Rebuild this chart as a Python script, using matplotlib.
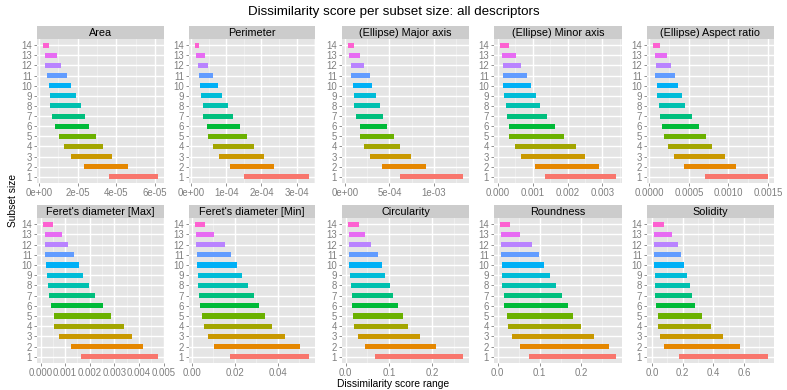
import numpy as np
import matplotlib
matplotlib.use("Agg")
import matplotlib.pyplot as plt

plt.rcParams["font.family"] = ["Liberation Sans", "DejaVu Sans"]

# ── Data: dissimilarity score range (low, high) per subset size 1..14 ──
subset_sizes = list(range(1, 15))

area_lo = [3.62e-5, 2.33e-5, 1.63e-5, 1.29e-5, 1.01e-5, 0.84e-5, 0.65e-5,
           0.58e-5, 0.55e-5, 0.51e-5, 0.43e-5, 0.33e-5, 0.29e-5, 0.19e-5]
area_hi = [6.16e-5, 4.61e-5, 3.77e-5, 3.31e-5, 2.93e-5, 2.59e-5, 2.37e-5,
           2.15e-5, 1.92e-5, 1.65e-5, 1.44e-5, 1.13e-5, 0.91e-5, 0.51e-5]

perim_lo = [1.50e-4, 1.11e-4, 0.80e-4, 0.62e-4, 0.49e-4, 0.44e-4, 0.34e-4,
            0.33e-4, 0.27e-4, 0.26e-4, 0.21e-4, 0.19e-4, 0.15e-4, 0.10e-4]
perim_hi = [3.36e-4, 2.37e-4, 2.06e-4, 1.79e-4, 1.60e-4, 1.38e-4, 1.20e-4,
            1.05e-4, 0.89e-4, 0.75e-4, 0.63e-4, 0.49e-4, 0.38e-4, 0.23e-4]

major_lo = [6.13e-4, 4.13e-4, 2.79e-4, 2.16e-4, 1.75e-4, 1.67e-4, 1.23e-4,
            1.08e-4, 1.08e-4, 0.86e-4, 0.71e-4, 0.74e-4, 0.52e-4, 0.33e-4]
major_hi = [13.27e-4, 9.11e-4, 7.43e-4, 6.13e-4, 5.54e-4, 4.72e-4, 4.28e-4,
            3.90e-4, 3.46e-4, 3.09e-4, 2.79e-4, 2.19e-4, 1.75e-4, 1.00e-4]

minor_lo = [1.35e-3, 1.07e-3, 0.66e-3, 0.48e-3, 0.31e-3, 0.30e-3, 0.27e-3,
            0.24e-3, 0.18e-3, 0.15e-3, 0.14e-3, 0.14e-3, 0.11e-3, 0.05e-3]
minor_hi = [3.40e-3, 2.91e-3, 2.49e-3, 2.23e-3, 1.90e-3, 1.63e-3, 1.41e-3,
            1.22e-3, 1.10e-3, 0.96e-3, 0.83e-3, 0.67e-3, 0.53e-3, 0.31e-3]

aspect_lo = [7.02e-4, 4.33e-4, 3.15e-4, 2.31e-4, 1.89e-4, 1.55e-4, 1.30e-4,
             1.18e-4, 0.97e-4, 0.92e-4, 0.76e-4, 0.84e-4, 0.71e-4, 0.42e-4]
aspect_hi = [15.04e-4, 10.92e-4, 9.62e-4, 7.98e-4, 7.18e-4, 6.22e-4, 5.34e-4,
             4.54e-4, 4.08e-4, 3.66e-4, 3.24e-4, 2.73e-4, 2.27e-4, 1.30e-4]

feretmax_lo = [1.63e-3, 1.25e-3, 0.75e-3, 0.54e-3, 0.54e-3, 0.44e-3, 0.35e-3,
               0.31e-3, 0.28e-3, 0.24e-3, 0.19e-3, 0.20e-3, 0.19e-3, 0.09e-3]
feretmax_hi = [4.78e-3, 4.16e-3, 3.72e-3, 3.38e-3, 2.87e-3, 2.52e-3, 2.21e-3,
               1.97e-3, 1.74e-3, 1.56e-3, 1.36e-3, 1.11e-3, 0.88e-3, 0.51e-3]

feretmin_lo = [1.76e-2, 1.06e-2, 0.78e-2, 0.57e-2, 0.46e-2, 0.40e-2, 0.34e-2,
               0.28e-2, 0.28e-2, 0.25e-2, 0.23e-2, 0.20e-2, 0.18e-2, 0.14e-2]
feretmin_hi = [5.47e-2, 5.04e-2, 4.33e-2, 3.75e-2, 3.43e-2, 3.12e-2, 2.92e-2,
               2.62e-2, 2.36e-2, 2.10e-2, 1.85e-2, 1.55e-2, 1.06e-2, 0.60e-2]

circ_lo = [0.067, 0.044, 0.028, 0.019, 0.016, 0.015, 0.015,
           0.012, 0.011, 0.008, 0.008, 0.008, 0.008, 0.005]
circ_hi = [0.272, 0.209, 0.172, 0.145, 0.132, 0.121, 0.110,
           0.102, 0.092, 0.084, 0.076, 0.059, 0.045, 0.032]

round_lo = [0.074, 0.054, 0.034, 0.025, 0.021, 0.016, 0.014,
            0.010, 0.010, 0.010, 0.009, 0.007, 0.007, 0.005]
round_hi = [0.283, 0.266, 0.229, 0.200, 0.180, 0.167, 0.154,
            0.139, 0.124, 0.110, 0.098, 0.081, 0.054, 0.030]

solid_lo = [0.173, 0.076, 0.048, 0.039, 0.037, 0.028, 0.020,
            0.017, 0.017, 0.015, 0.011, 0.009, 0.009, 0.004]
solid_hi = [0.758, 0.574, 0.462, 0.384, 0.325, 0.277, 0.258,
            0.245, 0.228, 0.210, 0.191, 0.171, 0.128, 0.080]

titles = ["Area", "Perimeter", "(Ellipse) Major axis", "(Ellipse) Minor axis",
          "(Ellipse) Aspect ratio", "Feret's diameter [Max]",
          "Feret's diameter [Min]", "Circularity", "Roundness", "Solidity"]
lows = [area_lo, perim_lo, major_lo, minor_lo, aspect_lo,
        feretmax_lo, feretmin_lo, circ_lo, round_lo, solid_lo]
highs = [area_hi, perim_hi, major_hi, minor_hi, aspect_hi,
         feretmax_hi, feretmin_hi, circ_hi, round_hi, solid_hi]

xticks = [
    [0, 2e-5, 4e-5, 6e-5],
    [0, 1e-4, 2e-4, 3e-4],
    [0, 5e-4, 1e-3],
    [0, 0.001, 0.002, 0.003],
    [0, 0.0005, 0.0010, 0.0015],
    [0, 0.001, 0.002, 0.003, 0.004, 0.005],
    [0, 0.02, 0.04],
    [0, 0.1, 0.2],
    [0, 0.1, 0.2],
    [0, 0.2, 0.4, 0.6],
]
xticklabels = [
    ["0e+00", "2e-05", "4e-05", "6e-05"],
    ["0e+00", "1e-04", "2e-04", "3e-04"],
    ["0e+00", "5e-04", "1e-03"],
    ["0.000", "0.001", "0.002", "0.003"],
    ["0.0000", "0.0005", "0.0010", "0.0015"],
    ["0.000", "0.001", "0.002", "0.003", "0.004", "0.005"],
    ["0.00", "0.02", "0.04"],
    ["0.0", "0.1", "0.2"],
    ["0.0", "0.1", "0.2"],
    ["0.0", "0.2", "0.4", "0.6"],
]

# ggplot2 default hue palette, 14 levels
palette = ["#F8766D", "#E58700", "#C99800", "#A3A500", "#6BB100", "#00BA38",
           "#00BF7D", "#00C0AF", "#00BCD8", "#00B0F6", "#619CFF", "#B983FF",
           "#E76BF3", "#FD61D1"]

# ── Layout (pixel boxes) ──
W, H = 787, 390
fig = plt.figure(figsize=(W / 100, H / 100), dpi=100)
col_x = [(37, 164), (189, 315), (342, 469), (494, 622), (647, 774)]
row_y = [(39, 183), (218, 363)]   # panel top, bottom
strip_h = 13

for i, title in enumerate(titles):
    r, c = divmod(i, 5)
    x0, x1 = col_x[c]
    top, bot = row_y[r]
    ax = fig.add_axes([x0 / W, 1 - bot / H, (x1 - x0) / W, (bot - top) / H])
    ax.set_facecolor("#E5E5E5")

    lo = np.array(lows[i])
    hi = np.array(highs[i])
    ax.barh(subset_sizes, hi - lo, left=lo, height=0.5, color=palette,
            edgecolor="none", zorder=3)

    rng = hi.max() - lo.min()
    xmin, xmax = lo.min() - 0.05 * rng, hi.max() + 0.05 * rng
    ax.set_xlim(xmin, xmax)
    ax.set_ylim(0.4, 14.6)

    ticks = xticks[i]
    step = ticks[1] - ticks[0]
    minors = [t + step / 2 for t in [ticks[0] - step] + ticks]
    for m in minors:
        if xmin < m < xmax:
            ax.axvline(m, color="#F2F2F2", lw=0.5, zorder=1)
    for t in ticks:
        ax.axvline(t, color="white", lw=1.0, zorder=2)
    for s in subset_sizes:
        ax.axhline(s, color="white", lw=1.0, zorder=2)

    ax.set_xticks(ticks)
    ax.set_xticklabels(xticklabels[i])
    ax.set_yticks(subset_sizes)
    ax.set_yticklabels([str(s) for s in subset_sizes])
    ax.tick_params(colors="#7F7F7F", labelsize=6.9, length=2.5, width=0.6,
                   pad=1.0)
    for sp in ax.spines.values():
        sp.set_visible(False)

    # facet strip
    sax = fig.add_axes([x0 / W, 1 - top / H, (x1 - x0) / W, strip_h / H])
    sax.set_facecolor("#CCCCCC")
    sax.set_xticks([])
    sax.set_yticks([])
    for sp in sax.spines.values():
        sp.set_visible(False)
    sax.text(0.5, 0.45, title, ha="center", va="center", fontsize=7.8,
             color="black", transform=sax.transAxes)

fig.text(0.5, 1 - 12 / H, "Dissimilarity score per subset size: all descriptors",
         ha="center", va="center", fontsize=9.6)
fig.text(0.5, 1 - 389 / H, "Dissimilarity score range", ha="center",
         va="bottom", fontsize=7.4)
fig.text(13 / W, 1 - 201 / H, "Subset size", ha="center", va="center",
         rotation=90, fontsize=7.4)

fig.savefig("out.png", dpi=100)
